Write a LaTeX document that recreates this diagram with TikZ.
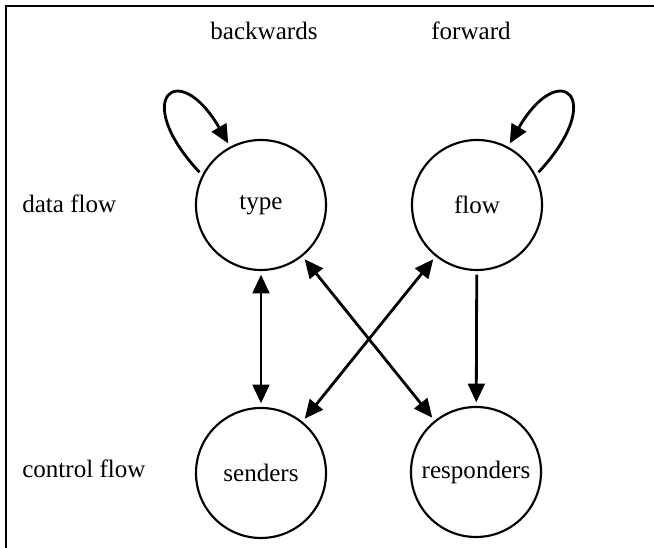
\documentclass[tikz,border=0pt]{standalone}
\usepackage{fontspec}
\setmainfont{Liberation Serif}
\usetikzlibrary{arrows.meta}

\begin{document}
\begin{tikzpicture}[
  x=0.75pt, y=0.75pt,
  font=\fontsize{18.8}{22}\selectfont,
  state/.style={circle, draw, line width=1.6pt, minimum size=97.5pt, inner sep=0pt, outer sep=3.5pt},
  lbl/.style={anchor=base west, inner sep=0pt},
  head/.style={anchor=base, inner sep=0pt},
  arr/.style={-{Triangle[length=14pt, width=12.5pt]}, line width=2.1pt},
  biarr/.style={{Triangle[length=14pt, width=12.5pt]}-{Triangle[length=14pt, width=12.5pt]}, line width=2.1pt}
]
  \useasboundingbox (0,0) rectangle (654,548);
  \draw[line width=1.1pt] (654,542) -- (6,542) -- (6,0);

  \node[head] (back) at (264,508) {backwards};
  \node[head] (fwd) at (471,508) {forward};
  \node[lbl] (dataflow) at (22,335) {data flow};
  \node[lbl] (ctrlflow) at (22,70) {control flow};

  \node[state] (type) at (261,343) {type};
  \node[state] (flow) at (477,343) {flow};
  \node[state] (senders) at (261,75) {senders};
  \node[state] (responders) at (476,76) {responders};

  \draw[arr] (type.152) .. controls +(133:102) and +(120:100) .. (type.118);
  \draw[arr] (flow.28) .. controls +(47:102) and +(60:100) .. (flow.62);
  \draw[biarr] (type) -- (senders);
  \draw[biarr] (type) -- (responders);
  \draw[biarr] (flow) -- (senders);
  \draw[arr] (flow) -- (responders);
\end{tikzpicture}
\end{document}
